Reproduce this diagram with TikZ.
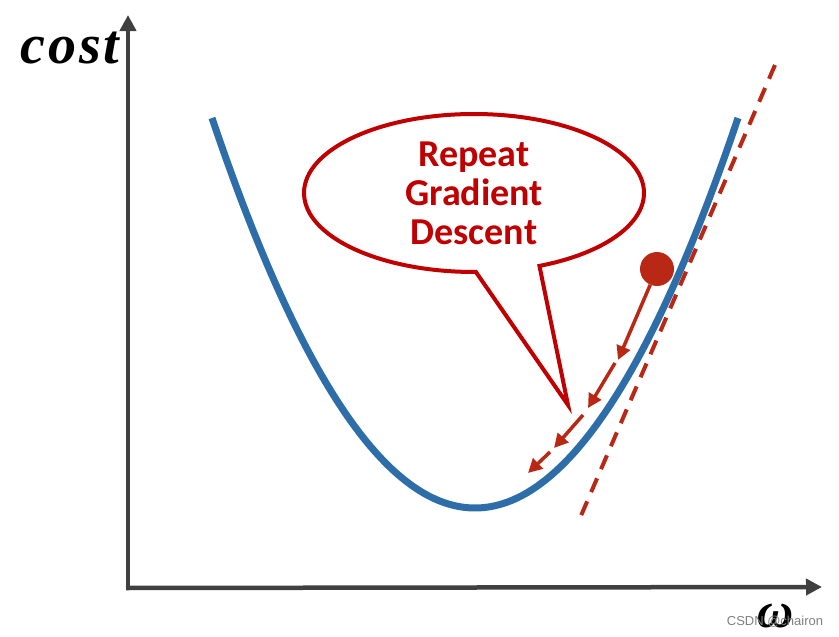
\documentclass[tikz,border=0pt]{standalone}
\usepackage{fontspec}
\setmainfont{Liberation Serif}
\newfontfamily\calloutfont{Carlito}
\newfontfamily\markfont{Liberation Sans}
\newfontfamily\costfont[LetterSpace=5]{Liberation Serif}
\usetikzlibrary{shapes.callouts,arrows.meta}
\definecolor{axisgray}{RGB}{64,64,64}
\definecolor{curveblue}{RGB}{46,110,168}
\definecolor{stepred}{RGB}{185,40,20}
\definecolor{calloutred}{RGB}{192,0,0}

\begin{document}
\begin{tikzpicture}[x=1pt, y=-1pt,
  axis/.style={draw=axisgray, line width=4.5pt, -{Triangle[length=16pt, width=16pt]}},
  costcurve/.style={draw=curveblue, line width=7pt},
  tangent/.style={draw=stepred, line width=4pt, dash pattern=on 15pt off 10pt},
  ball/.style={circle, fill=stepred, minimum size=34pt, inner sep=0pt},
  stepar/.style={draw=stepred, line width=3.5pt, -{Triangle[length=14pt, width=14pt]}},
  bubble/.style={ellipse callout, draw=calloutred, line width=4pt, fill=white,
                 minimum width=340pt, minimum height=158pt, inner sep=0pt,
                 callout pointer arc=22, align=center, text=calloutred,
                 font=\calloutfont\bfseries\fontsize{38}{39}\selectfont}
]
\useasboundingbox (0,0) rectangle (839,637);
% axes
\coordinate (o) at (128,588);
\coordinate (ytop) at (128,15);
\coordinate (xend) at (822,587);
\draw[axis] (o) -- (ytop);
\draw[axis] ([xshift=-2pt]o) -- (xend);
\node[font=\costfont\bfseries\itshape\fontsize{56}{56}\selectfont, anchor=base] (costlabel) at (70,63) {cost};
\node[font=\bfseries\itshape\fontsize{50}{50}\selectfont] (wlabel) at (776,616) {ω};
\node[font=\markfont\fontsize{13}{13}\selectfont, text=gray] (mark) at (775,622) {CSDN @chairon};
% cost curve and tangent
\draw[costcurve] plot[domain=212:738, samples=80, smooth] (\x, {508-390*((\x-475)/263)^2});
\coordinate (t1) at (775,65);
\coordinate (t2) at (580,518);
\draw[tangent] (t1) -- (t2);
% callout
\node[bubble, callout absolute pointer={(568,405)}] (rep) at (474,193) {Repeat\\Gradient\\Descent};
% steps
\node[ball] (b) at (657,269) {};
\coordinate (s1) at (618,360);
\coordinate (s2) at (615,363);
\coordinate (s3) at (588,408);
\coordinate (s4) at (583,415);
\coordinate (s5) at (554,448);
\coordinate (s6) at (550,452);
\coordinate (s7) at (528,473);
\draw[stepar] (b) -- (s1);
\draw[stepar] (s2) -- (s3);
\draw[stepar] (s4) -- (s5);
\draw[stepar] (s6) -- (s7);
\end{tikzpicture}
\end{document}
